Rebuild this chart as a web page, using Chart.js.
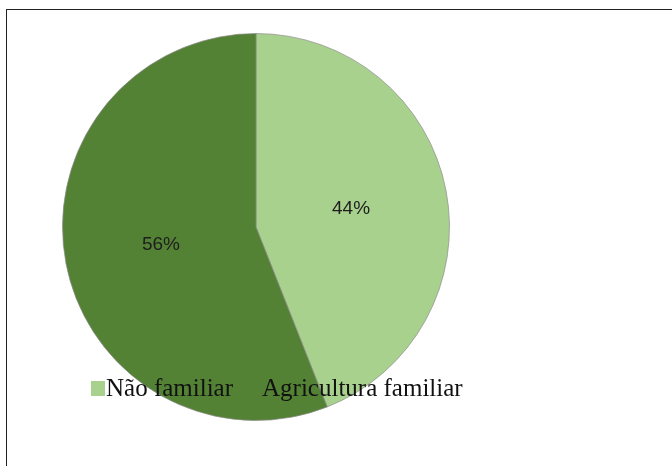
<!DOCTYPE html>
<html>
<head>
<meta charset="utf-8">
<script src="https://cdn.jsdelivr.net/npm/chart.js@4"></script>
<style>
  html, body { margin: 0; padding: 0; background: #fff; }
  #wrap { position: relative; width: 672px; height: 466px; overflow: hidden; }
  #frame {
    position: absolute; left: 6px; top: 9px; width: 700px; height: 500px;
    border-left: 1.5px solid #222; border-top: 1.5px solid #222;
  }
  canvas { position: absolute; left: 0; top: 0; }
</style>
</head>
<body>
<div id="wrap">
  <div id="frame"></div>
  <canvas id="pieChart" width="672" height="466"></canvas>
</div>
<script>
const categories = ['Não familiar', 'Agricultura familiar'];
const shares = [44, 56]; // percent
const sliceColors = ['#a9d18e', '#548235'];

// percent labels sit at the middle of each slice
const sliceLabels = {
  id: 'sliceLabels',
  afterDatasetsDraw(chart) {
    const ctx = chart.ctx;
    const arcs = chart.getDatasetMeta(0).data;
    ctx.save();
    ctx.font = '19px "Liberation Sans", Arial, sans-serif';
    ctx.fillStyle = '#1e1e1e';
    ctx.textAlign = 'center';
    ctx.textBaseline = 'middle';
    arcs.forEach((arc, i) => {
      const pos = arc.tooltipPosition();
      ctx.fillText(shares[i] + '%', pos.x, pos.y);
    });
    ctx.restore();
  }
};

// legend drawn over the lower part of the pie
const overlayLegend = {
  id: 'overlayLegend',
  afterDraw(chart) {
    const ctx = chart.ctx;
    let x = 91;
    const top = 381;
    const baseline = 396;
    ctx.save();
    ctx.font = '25px "Liberation Serif", "Times New Roman", serif';
    ctx.textBaseline = 'alphabetic';
    categories.forEach((name, i) => {
      ctx.fillStyle = sliceColors[i];
      ctx.fillRect(x, top, 14, 15);
      ctx.fillStyle = '#111';
      ctx.fillText(name, x + 15, baseline);
      x += 15 + ctx.measureText(name).width + 14;
    });
    ctx.restore();
  }
};

new Chart(document.getElementById('pieChart'), {
  type: 'pie',
  data: {
    labels: categories,
    datasets: [{
      data: shares,
      backgroundColor: sliceColors,
      borderColor: 'rgba(140,140,140,0.7)',
      borderWidth: 1
    }]
  },
  options: {
    responsive: false,
    animation: false,
    layout: { padding: { left: 62, top: 33, right: 222, bottom: 45 } },
    plugins: {
      legend: { display: false },
      tooltip: { enabled: false }
    }
  },
  plugins: [sliceLabels, overlayLegend]
});
</script>
</body>
</html>
